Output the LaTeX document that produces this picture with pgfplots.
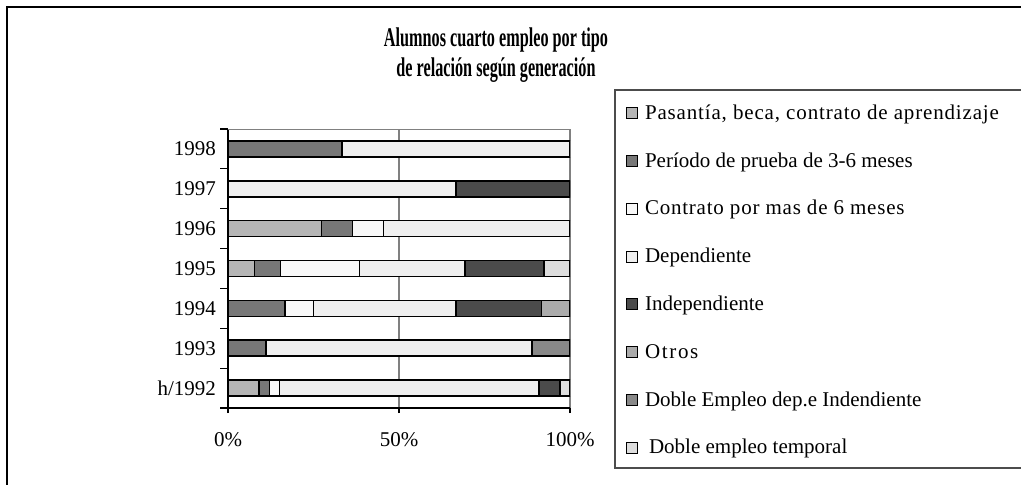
\documentclass[border=0pt]{standalone}
\usepackage{fontspec}
\setmainfont{Liberation Serif}
\newfontfamily\titlefont{Liberation Serif}[FakeStretch=0.6]
\usepackage{pgfplots}
\pgfplotsset{compat=1.18}
\definecolor{cPas}{HTML}{B5B5B5}
\definecolor{cPer}{HTML}{777777}
\definecolor{cCon}{HTML}{F8F8F8}
\definecolor{cDep}{HTML}{EFEFEF}
\definecolor{cInd}{HTML}{4B4B4B}
\definecolor{cOtr}{HTML}{ABABAB}
\definecolor{cDDI}{HTML}{888888}
\definecolor{cDTe}{HTML}{DDDDDD}
\begin{document}
\begin{tikzpicture}
\useasboundingbox (0,0) rectangle (510.5pt,-242pt);
\draw[line width=1pt] (3.5pt,-250pt) -- (3.5pt,-3.5pt) -- (520pt,-3.5pt);
\node[align=center, font=\titlefont\bfseries\fontsize{13.5}{15}\selectfont] at (248pt,-27.5pt) {Alumnos cuarto empleo por tipo\\de relación según generación};
\draw[line width=0.8pt, black!70] (520pt,-45pt) -- (307.5pt,-45pt) -- (307.5pt,-234pt) -- (520pt,-234pt);
\begin{axis}[
  at={(114pt,-204pt)}, anchor=south west,
  scale only axis, width=171pt, height=139.5pt,
  xbar stacked, bar width=8pt,
  xmin=0, xmax=100, ymin=-0.5, ymax=6.5,
  axis x line*=bottom, axis y line*=left,
  axis line style={black, line width=0.6pt},
  xtick={0,50,100}, xticklabels={0\%,50\%,100\%},
  xmajorgrids, grid style={gray, line width=0.6pt},
  ytick={0,1,2,3,4,5,6},
  yticklabels={h/1992,1993,1994,1995,1996,1997,1998},
  minor ytick={-0.5,0.5,1.5,2.5,3.5,4.5,5.5,6.5},
  major y tick style={draw=none},
  minor y tick style={black, line width=0.6pt},
  major x tick style={black, line width=0.6pt},
  tick align=outside, major tick length=2.5pt, minor tick length=4pt,
  ticklabel style={font=\fontsize{10.5}{12}\selectfont},
  yticklabel style={xshift=0pt},
  xticklabel style={yshift=-6pt},
  legend cell align=left,
  legend style={at={(1.146,1.108)}, anchor=north west, draw=none, fill=none,
    font=\fontsize{10.5}{12}\selectfont, row sep=13.9pt,
    nodes={text height=8pt, text depth=2pt, inner ysep=0pt, inner xsep=1.5pt}},
  legend image code/.code={\draw[#1, draw=black, line width=0.5pt] (0pt,-2.75pt) rectangle (5.5pt,2.75pt); \path (7.2pt,0pt);},
  every axis plot/.append style={draw=black, line width=0.8pt},
]
\addplot[fill=cPas] coordinates {(9.1,0) (0,1) (0,2) (7.7,3) (27.3,4) (0,5) (0,6)};
\addplot[fill=cPer] coordinates {(3.0,0) (11.1,1) (16.7,2) (7.7,3) (9.1,4) (0,5) (33.3,6)};
\addplot[fill=cCon] coordinates {(3.0,0) (0,1) (8.3,2) (23.1,3) (9.1,4) (0,5) (0,6)};
\addplot[fill=cDep] coordinates {(75.8,0) (77.8,1) (41.7,2) (30.8,3) (54.5,4) (66.7,5) (66.7,6)};
\addplot[fill=cInd] coordinates {(6.1,0) (0,1) (25.0,2) (23.1,3) (0,4) (33.3,5) (0,6)};
\addplot[fill=cOtr] coordinates {(0,0) (0,1) (8.3,2) (0,3) (0,4) (0,5) (0,6)};
\addplot[fill=cDDI] coordinates {(0,0) (11.1,1) (0,2) (0,3) (0,4) (0,5) (0,6)};
\addplot[fill=cDTe] coordinates {(3.0,0) (0,1) (0,2) (7.6,3) (0,4) (0,5) (0,6)};
\legend{{\addfontfeature{LetterSpace=4}Pasantía, beca, contrato de aprendizaje},
  {Período de prueba de 3-6 meses},
  {\addfontfeature{LetterSpace=3.7}Contrato por mas de 6 meses},
  {Dependiente},
  {Independiente},
  {\addfontfeature{LetterSpace=8}Otros},
  {Doble Empleo dep.e Indendiente},
  {\hspace{2pt}Doble empleo temporal}}
\draw[gray, line width=0.6pt] (rel axis cs:0,1) -- (rel axis cs:1,1);
\end{axis}
\end{tikzpicture}
\end{document}
